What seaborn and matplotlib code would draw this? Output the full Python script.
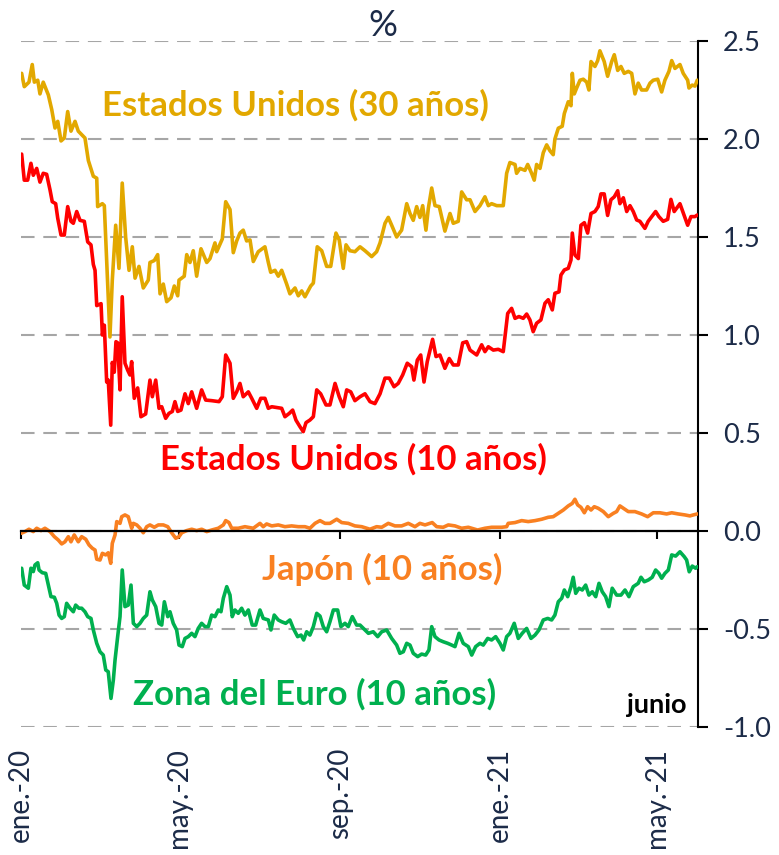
import numpy as np
import pandas as pd
import matplotlib
matplotlib.use("Agg")
import matplotlib.pyplot as plt
import seaborn as sns

# ---------------- data (days since 2020-01-01, yield in %) ----------------
start_date = "2020-01-01"

us30_days = [0.5, 2.5, 6.1, 8.6, 10.2, 12.8, 14.5, 17.0, 20.9, 23.5, 26.0, 28.1, 30.6, 33.1, 35.7, 38.2, 41.3, 43.8,
             48.9, 51.5, 55.3, 57.9, 58.6, 62.2, 63.7, 68.0, 69.8, 72.4, 74.9, 77.4, 80.0, 82.6, 85.1, 87.2, 90.2,
             93.5, 97.3, 98.6, 101.9, 104.5, 106.3, 108.8, 111.4, 114.7, 117.2, 119.8, 120.8, 124.8, 126.7, 129.2,
             131.7, 134.3, 137.6, 142.0, 144.5, 148.3, 149.6, 153.9, 156.5, 159.8, 162.3, 164.9, 167.4, 169.9,
             172.5, 175.1, 177.6, 181.4, 186.5, 189.1, 190.9, 194.2, 196.7, 199.3, 203.1, 205.6, 209.5, 212.0,
             214.6, 217.1, 221.5, 223.5, 226.5, 229.9, 233.7, 236.8, 240.8, 243.3, 246.4, 248.5, 251.5, 255.3,
             259.2, 263.0, 268.1, 271.9, 274.5, 278.3, 280.8, 283.4, 287.2, 291.0, 294.9, 297.4, 299.9, 302.5,
             305.0, 307.1, 309.6, 311.4, 314.0, 316.5, 319.8, 324.1, 328.0, 330.5, 334.3, 336.9, 340.7, 343.3,
             347.1, 350.9, 354.7, 357.3, 359.8, 363.7, 368.7, 371.3, 373.8, 377.7, 378.9, 381.5, 385.3, 387.4,
             390.4, 392.4, 394.2, 396.8, 399.3, 401.9, 404.4, 406.9, 408.2, 410.8, 413.8, 415.4, 418.4, 420.5,
             421.5, 423.0, 424.8, 427.4, 429.9, 432.5, 434.2, 435.8, 438.8, 440.9, 442.6, 445.9, 448.5, 451.6,
             453.6, 456.2, 458.7, 461.2, 464.3, 466.9, 469.4, 471.9, 474.5, 478.3, 480.9, 483.4, 486.8, 489.8,
             492.3, 495.4, 497.5, 500.0, 503.8, 506.3, 509.7, 510.7, 513.2, 515.3, 517.0]
us30_vals = [2.335, 2.267, 2.29, 2.38, 2.29, 2.30, 2.23, 2.29, 2.225, 2.15, 2.056, 2.09, 1.99, 2.005, 2.14, 2.04,
             2.09, 2.04, 2.005, 1.89, 1.81, 1.80, 1.655, 1.67, 1.66, 0.99, 1.28, 1.56, 1.34, 1.775, 1.50, 1.33,
             1.45, 1.29, 1.35, 1.24, 1.28, 1.37, 1.38, 1.41, 1.21, 1.26, 1.17, 1.19, 1.25, 1.20, 1.28, 1.30, 1.41,
             1.37, 1.43, 1.30, 1.44, 1.37, 1.39, 1.47, 1.425, 1.49, 1.68, 1.64, 1.42, 1.48, 1.52, 1.535, 1.48,
             1.485, 1.375, 1.425, 1.45, 1.37, 1.32, 1.33, 1.30, 1.33, 1.26, 1.21, 1.24, 1.20, 1.225, 1.195, 1.25,
             1.265, 1.45, 1.43, 1.35, 1.35, 1.52, 1.485, 1.34, 1.46, 1.43, 1.425, 1.45, 1.43, 1.40, 1.425, 1.47,
             1.57, 1.60, 1.56, 1.50, 1.535, 1.67, 1.62, 1.585, 1.655, 1.60, 1.66, 1.535, 1.645, 1.75, 1.66, 1.655,
             1.53, 1.62, 1.57, 1.58, 1.73, 1.69, 1.69, 1.63, 1.66, 1.705, 1.66, 1.67, 1.66, 1.66, 1.825, 1.88,
             1.87, 1.825, 1.85, 1.84, 1.87, 1.825, 1.79, 1.87, 1.85, 1.93, 1.97, 1.94, 1.92, 2.00, 2.055, 2.065,
             2.13, 2.19, 2.17, 2.335, 2.23, 2.26, 2.30, 2.305, 2.29, 2.25, 2.395, 2.37, 2.40, 2.45, 2.395, 2.32,
             2.395, 2.43, 2.35, 2.37, 2.335, 2.345, 2.335, 2.23, 2.285, 2.25, 2.25, 2.285, 2.30, 2.305, 2.24,
             2.30, 2.345, 2.40, 2.36, 2.38, 2.335, 2.30, 2.26, 2.275, 2.27, 2.30]

us10_days = [0.5, 2.5, 5.1, 7.6, 9.4, 12.0, 14.5, 17.0, 19.6, 22.2, 23.9, 26.5, 28.1, 30.6, 33.1, 35.7, 38.2, 40.0,
             42.6, 45.1, 48.4, 51.0, 53.5, 55.3, 56.6, 57.9, 61.2, 62.2, 63.7, 65.5, 66.7, 68.6, 69.8, 71.3, 72.6,
             73.9, 75.7, 77.4, 79.5, 81.6, 83.3, 84.6, 86.6, 89.2, 91.7, 95.3, 98.6, 100.4, 103.0, 105.5, 107.6,
             110.6, 113.1, 115.7, 117.7, 119.8, 122.3, 125.4, 127.9, 130.5, 134.3, 138.1, 141.2, 145.8, 151.4,
             153.9, 156.5, 159.8, 162.3, 164.9, 167.4, 169.9, 173.8, 176.4, 180.2, 183.3, 186.5, 189.1, 191.7,
             195.5, 199.3, 201.8, 205.1, 207.7, 210.2, 213.3, 215.8, 217.9, 220.9, 223.5, 226.1, 229.1, 233.2,
             236.2, 240.1, 243.3, 246.4, 249.0, 252.1, 255.3, 259.2, 263.0, 266.8, 270.6, 274.5, 278.3, 281.6,
             285.2, 288.4, 291.8, 295.3, 298.7, 300.4, 303.0, 305.6, 308.1, 310.6, 314.7, 317.3, 320.3, 324.1,
             327.4, 330.5, 334.3, 337.7, 340.7, 343.3, 348.4, 352.2, 354.7, 357.3, 361.1, 364.9, 368.7, 372.1,
             375.1, 377.7, 380.7, 384.0, 386.6, 389.1, 391.6, 394.2, 397.5, 400.6, 403.1, 406.2, 408.2, 411.3,
             412.8, 415.4, 418.4, 420.5, 421.5, 423.5, 426.1, 428.1, 430.7, 433.2, 435.8, 438.8, 441.3, 443.4,
             445.9, 448.5, 451.0, 453.6, 456.2, 457.9, 460.5, 463.1, 465.6, 468.1, 470.7, 473.2, 477.0, 479.5,
             482.2, 485.2, 487.7, 491.0, 494.4, 496.9, 499.4, 503.8, 506.3, 509.7, 512.2, 515.3, 517.0]
us10_vals = [1.923, 1.79, 1.79, 1.876, 1.815, 1.85, 1.78, 1.825, 1.82, 1.74, 1.68, 1.67, 1.595, 1.51, 1.51, 1.655,
             1.58, 1.57, 1.63, 1.585, 1.58, 1.475, 1.46, 1.36, 1.33, 1.15, 1.16, 1.0, 1.05, 0.76, 0.77, 0.54, 0.86,
             0.81, 0.966, 0.96, 0.72, 1.195, 0.856, 0.82, 0.796, 0.864, 0.677, 0.73, 0.583, 0.597, 0.77, 0.685,
             0.77, 0.626, 0.634, 0.575, 0.60, 0.61, 0.66, 0.61, 0.617, 0.70, 0.65, 0.71, 0.626, 0.72, 0.668,
             0.665, 0.66, 0.685, 0.898, 0.856, 0.677, 0.71, 0.753, 0.685, 0.71, 0.677, 0.626, 0.677, 0.677, 0.626,
             0.634, 0.63, 0.626, 0.583, 0.60, 0.617, 0.566, 0.532, 0.507, 0.553, 0.566, 0.583, 0.72, 0.70, 0.643,
             0.643, 0.753, 0.685, 0.634, 0.72, 0.71, 0.665, 0.685, 0.70, 0.66, 0.65, 0.70, 0.78, 0.78, 0.736,
             0.753, 0.796, 0.856, 0.838, 0.77, 0.872, 0.898, 0.76, 0.864, 0.978, 0.89, 0.898, 0.83, 0.88, 0.847,
             0.847, 0.96, 0.966, 0.923, 0.898, 0.95, 0.915, 0.94, 0.923, 0.927, 0.915, 1.11, 1.136, 1.085, 1.094,
             1.085, 1.107, 1.077, 1.017, 1.06, 1.077, 1.162, 1.18, 1.128, 1.213, 1.22, 1.306, 1.332, 1.34, 1.383,
             1.52, 1.408, 1.39, 1.56, 1.573, 1.52, 1.62, 1.63, 1.655, 1.72, 1.72, 1.61, 1.69, 1.705, 1.736, 1.67,
             1.70, 1.63, 1.66, 1.63, 1.587, 1.58, 1.544, 1.58, 1.604, 1.63, 1.604, 1.58, 1.59, 1.692, 1.63, 1.67,
             1.624, 1.56, 1.604, 1.604, 1.612]

jp10_days = [0.0, 3.1, 6.1, 9.4, 12.0, 15.3, 18.3, 22.2, 25.5, 28.5, 31.1, 33.6, 36.2, 38.2, 40.7, 43.8, 46.4, 49.5,
             52.0, 54.5, 56.6, 57.9, 60.4, 62.2, 64.8, 66.7, 68.6, 69.8, 71.9, 73.2, 75.7, 77.0, 79.5, 82.0, 84.6,
             85.9, 88.5, 91.0, 93.5, 96.1, 98.6, 101.9, 105.0, 108.8, 112.2, 115.2, 118.3, 120.8, 122.9, 126.7,
             130.5, 134.3, 138.1, 142.0, 145.8, 150.8, 154.7, 156.5, 159.0, 161.1, 166.1, 171.2, 177.6, 182.7,
             185.2, 187.8, 191.7, 196.7, 201.8, 206.9, 212.0, 217.1, 220.9, 224.8, 228.6, 232.4, 236.2, 241.4,
             245.2, 250.2, 255.3, 260.5, 266.8, 271.9, 275.8, 280.8, 285.9, 291.0, 296.1, 301.2, 305.0, 308.9,
             314.4, 317.8, 322.8, 326.7, 331.8, 336.9, 342.0, 349.1, 354.7, 359.8, 367.5, 371.3, 372.5, 377.7,
             382.8, 387.8, 393.0, 398.1, 403.1, 406.9, 410.8, 414.6, 418.4, 421.5, 423.5, 425.6, 428.1, 430.7,
             433.2, 435.8, 438.3, 441.3, 445.2, 449.0, 452.8, 455.4, 457.9, 460.5, 464.3, 469.4, 474.5, 479.1,
             483.4, 488.5, 493.6, 497.5, 502.5, 507.6, 511.4, 514.0, 517.0]
jp10_vals = [-0.012, -0.003, 0.009, -0.003, 0.014, 0.002, 0.014, -0.003, -0.029, -0.046, -0.066, -0.055, -0.029,
             -0.055, -0.02, -0.055, -0.029, -0.042, -0.071, -0.088, -0.097, -0.144, -0.148, -0.114, -0.122, -0.111,
             -0.165, -0.063, -0.02, 0.048, 0.039, 0.073, 0.082, 0.073, 0.014, 0.039, 0.031, 0.014, -0.009, 0.022,
             0.031, 0.019, 0.031, 0.031, 0.022, -0.009, -0.037, -0.029, -0.009, 0.002, 0.009, 0.002, 0.009, -0.003,
             0.005, 0.014, 0.031, 0.053, 0.043, 0.014, 0.014, 0.022, 0.014, 0.039, 0.022, 0.036, 0.026, 0.031,
             0.022, 0.026, 0.022, 0.022, 0.014, 0.039, 0.053, 0.039, 0.039, 0.06, 0.043, 0.039, 0.026, 0.022,
             0.009, 0.022, 0.019, 0.039, 0.026, 0.026, 0.039, 0.022, 0.039, 0.031, 0.043, 0.022, 0.019, 0.031,
             0.026, 0.014, 0.019, 0.005, 0.014, 0.019, 0.019, 0.022, 0.039, 0.043, 0.053, 0.048, 0.053, 0.06,
             0.07, 0.073, 0.09, 0.107, 0.128, 0.141, 0.162, 0.133, 0.121, 0.093, 0.124, 0.107, 0.124, 0.116,
             0.099, 0.073, 0.09, 0.099, 0.128, 0.116, 0.099, 0.099, 0.087, 0.073, 0.093, 0.093, 0.087, 0.093,
             0.087, 0.082, 0.077, 0.082, 0.087]

eu10_days = [0.5, 2.5, 5.6, 7.6, 9.4, 10.7, 12.8, 13.8, 16.3, 18.9, 20.9, 22.9, 25.5, 27.3, 29.1, 31.1, 33.1, 34.9,
             37.5, 40.0, 41.8, 44.3, 46.4, 48.9, 51.0, 53.5, 55.3, 57.9, 60.4, 62.9, 64.8, 66.7, 68.8, 70.6, 71.9,
             73.9, 75.7, 77.4, 79.5, 82.0, 84.1, 85.9, 88.5, 91.0, 93.5, 96.1, 98.6, 100.4, 103.0, 105.5, 107.6,
             109.6, 112.2, 113.9, 116.4, 119.0, 120.8, 123.3, 125.4, 127.9, 130.5, 133.0, 135.5, 138.1, 140.7,
             143.2, 145.8, 148.3, 150.8, 152.9, 154.7, 157.3, 159.8, 161.5, 163.6, 166.1, 168.7, 171.2, 173.8,
             176.8, 179.4, 182.7, 185.2, 189.1, 191.1, 193.6, 196.7, 199.3, 202.4, 205.6, 208.2, 211.5, 214.1,
             216.1, 218.4, 220.9, 223.5, 226.1, 228.6, 231.1, 233.7, 236.2, 238.8, 242.1, 244.6, 247.7, 250.2,
             253.3, 256.6, 259.2, 263.0, 265.6, 269.3, 272.7, 275.8, 279.6, 283.4, 287.2, 289.7, 292.3, 294.9,
             297.4, 299.9, 303.3, 306.3, 309.4, 311.9, 314.0, 316.5, 319.6, 322.8, 326.2, 329.3, 331.8, 334.9,
             338.1, 342.0, 344.6, 347.6, 350.9, 353.4, 356.8, 359.8, 362.9, 366.2, 368.7, 371.3, 373.8, 377.1,
             380.2, 383.2, 386.6, 389.9, 393.0, 396.0, 399.3, 402.7, 405.7, 408.2, 410.8, 413.4, 415.4, 418.0,
             420.5, 422.2, 424.1, 426.6, 429.1, 431.7, 434.2, 436.8, 439.4, 441.9, 444.4, 447.0, 449.5, 452.0,
             455.4, 458.7, 461.8, 464.8, 468.1, 471.9, 474.0, 476.5, 479.6, 482.6, 485.2, 487.7, 489.8, 492.3,
             494.9, 497.5, 500.5, 503.8, 507.1, 508.9, 510.9, 513.2, 515.8, 517.0]
eu10_vals = [-0.19, -0.276, -0.292, -0.19, -0.207, -0.173, -0.162, -0.199, -0.213, -0.216, -0.276, -0.335, -0.338,
             -0.369, -0.429, -0.446, -0.437, -0.369, -0.394, -0.412, -0.378, -0.394, -0.394, -0.412, -0.437, -0.446,
             -0.505, -0.573, -0.616, -0.633, -0.709, -0.718, -0.854, -0.76, -0.658, -0.539, -0.437, -0.199, -0.386,
             -0.378, -0.276, -0.471, -0.488, -0.471, -0.446, -0.429, -0.31, -0.352, -0.386, -0.471, -0.48, -0.361,
             -0.437, -0.412, -0.471, -0.505, -0.582, -0.59, -0.548, -0.539, -0.522, -0.539, -0.497, -0.471, -0.488,
             -0.488, -0.429, -0.437, -0.403, -0.412, -0.343, -0.284, -0.327, -0.437, -0.403, -0.42, -0.394, -0.429,
             -0.403, -0.48, -0.48, -0.403, -0.446, -0.454, -0.505, -0.429, -0.454, -0.463, -0.471, -0.454, -0.497,
             -0.539, -0.531, -0.556, -0.514, -0.531, -0.488, -0.42, -0.434, -0.488, -0.514, -0.463, -0.403, -0.403,
             -0.488, -0.471, -0.488, -0.437, -0.48, -0.48, -0.505, -0.522, -0.514, -0.539, -0.514, -0.505, -0.548,
             -0.582, -0.624, -0.616, -0.573, -0.582, -0.624, -0.641, -0.628, -0.633, -0.607, -0.488, -0.539, -0.556,
             -0.565, -0.573, -0.582, -0.59, -0.522, -0.573, -0.59, -0.633, -0.59, -0.573, -0.582, -0.548, -0.556,
             -0.539, -0.573, -0.607, -0.539, -0.522, -0.471, -0.548, -0.522, -0.497, -0.548, -0.531, -0.505,
             -0.454, -0.446, -0.454, -0.429, -0.361, -0.343, -0.301, -0.335, -0.284, -0.236, -0.318, -0.292,
             -0.301, -0.276, -0.327, -0.31, -0.335, -0.267, -0.31, -0.335, -0.386, -0.292, -0.327, -0.327, -0.301,
             -0.335, -0.284, -0.267, -0.236, -0.259, -0.25, -0.236, -0.199, -0.216, -0.241, -0.216, -0.199, -0.122,
             -0.128, -0.106, -0.131, -0.148, -0.208, -0.179, -0.19, -0.182]

series_names = ["Estados Unidos (30 años)", "Estados Unidos (10 años)", "Japón (10 años)", "Zona del Euro (10 años)"]
tick_dates = ["2020-01-01", "2020-05-01", "2020-09-01", "2021-01-01", "2021-05-01"]
tick_labels = ["ene.-20", "may.-20", "sep.-20", "ene.-21", "may.-21"]
end_date = "2021-06-01"
y_ticks = [-1.0, -0.5, 0.0, 0.5, 1.0, 1.5, 2.0, 2.5]
y_labels = ["-1.0", "-0.5", "0.0", "0.5", "1.0", "1.5", "2.0", "2.5"]

# ---------------- style ----------------
sns.set_style("white")
plt.rcParams["font.family"] = ["Lato", "DejaVu Sans"]

NAVY = "#1C2B48"
colors = ["#E2A800", "#FF0000", "#F98021", "#00B04F"]

W, H = 779, 855
fig = plt.figure(figsize=(W / 100, H / 100), dpi=100)
ax = fig.add_axes([21 / W, 1 - 727 / H, (698 - 21) / W, (727 - 41) / H])

t0 = pd.Timestamp(start_date)
def to_days(dates):
    return [(pd.Timestamp(d) - t0).days for d in dates]

all_days = [us30_days, us10_days, jp10_days, eu10_days]
all_vals = [us30_vals, us10_vals, jp10_vals, eu10_vals]
for d, v, c in zip(all_days, all_vals, colors):
    sns.lineplot(x=np.array(d), y=np.array(v), color=c, lw=2.6, ax=ax,
                 estimator=None, sort=False, zorder=3)

xt = to_days(tick_dates)
ax.set_xlim(0, to_days([end_date])[0] + 0.6)
ax.set_ylim(-1.0, 2.5)

# gridlines
ax.set_yticks(y_ticks)
ax.set_yticklabels(y_labels)
ax.yaxis.grid(True, color="#A6A6A6", lw=1.5, linestyle=(0, (6.5, 4.2)))
ax.xaxis.grid(False)
ax.set_axisbelow(True)

# spines
for s in ["left", "top"]:
    ax.spines[s].set_visible(False)
ax.spines["right"].set_color("black")
ax.spines["right"].set_linewidth(1.5)
ax.spines["bottom"].set_position(("data", 0))
ax.spines["bottom"].set_color("black")
ax.spines["bottom"].set_linewidth(1.6)
ax.spines["bottom"].set_zorder(4)

ax.yaxis.tick_right()
ax.tick_params(axis="y", which="both", right=True, left=False, direction="out",
               length=7, width=1.5, color="black", pad=11, labelsize=19.5, labelcolor=NAVY)

ax.set_xticks(xt)
ax.tick_params(axis="x", bottom=True, direction="out", length=6, width=1.5,
               color="black", labelbottom=False)

sec = ax.secondary_xaxis("bottom")
sec.set_xticks(xt)
sec.set_xticklabels(tick_labels, rotation=90)
sec.spines["bottom"].set_visible(False)
sec.tick_params(axis="x", length=0, pad=15, labelsize=20, labelcolor=NAVY)

ax.set_xlabel("")
ax.set_ylabel("")

# series labels
def ftext(px, py, s, **kw):
    fig.text(px / W, 1 - py / H, s, ha="center", va="baseline", **kw)

ftext(295.5, 116, series_names[0], color=colors[0], fontsize=25, fontweight="bold")
ftext(353.5, 470, series_names[1], color=colors[1], fontsize=25, fontweight="bold")
ftext(382, 580, series_names[2], color=colors[2], fontsize=25, fontweight="bold")
ftext(315, 705, series_names[3], color=colors[3], fontsize=25, fontweight="bold")
ftext(657, 713, "junio", color="black", fontsize=19.5, fontweight="bold")
ftext(383, 36, "%", color=NAVY, fontsize=26)

fig.savefig("out.png", dpi=100)
